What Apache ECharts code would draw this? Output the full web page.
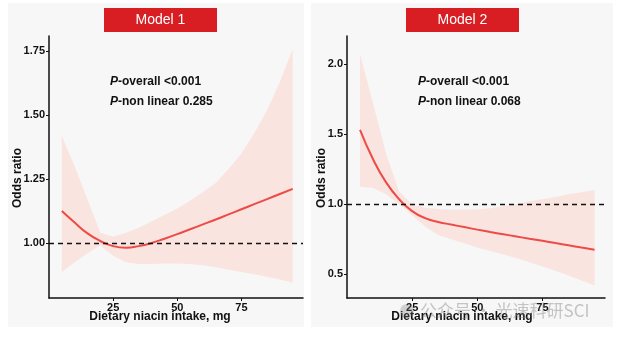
<!DOCTYPE html>
<html>
<head>
<meta charset="utf-8">
<script src="https://cdn.jsdelivr.net/npm/echarts@6/dist/echarts.min.js"></script>
<style>
html,body{margin:0;padding:0;background:#ffffff;}
#chart{width:621px;height:337px;}
</style>
</head>
<body>
<div id="chart"></div>
<script>
// ---- data ----
const xIntake = [5, 10, 15, 20, 25, 30, 35, 40, 45, 50, 55, 60, 65, 70, 75, 80, 85, 90, 95];

const m1OR = [1.125, 1.08, 1.038, 1.008, 0.988, 0.982, 0.988, 1.0, 1.017, 1.035, 1.054, 1.073, 1.092, 1.112, 1.132, 1.152, 1.172, 1.192, 1.212];
const m1Hi = [1.42, 1.30, 1.17, 1.04, 1.025, 1.04, 1.06, 1.085, 1.11, 1.135, 1.165, 1.20, 1.235, 1.29, 1.35, 1.43, 1.52, 1.63, 1.76];
const m1Lo = [0.887, 0.925, 0.96, 0.99, 0.95, 0.925, 0.918, 0.918, 0.92, 0.92, 0.918, 0.913, 0.905, 0.896, 0.887, 0.878, 0.868, 0.857, 0.845];

const m2OR = [1.53, 1.32, 1.155, 1.035, 0.95, 0.90, 0.873, 0.854, 0.836, 0.818, 0.801, 0.785, 0.769, 0.753, 0.738, 0.722, 0.706, 0.69, 0.675];
const m2Hi = [2.07, 1.72, 1.36, 1.09, 0.995, 0.975, 0.965, 0.96, 0.96, 0.962, 0.97, 0.985, 1.0, 1.02, 1.035, 1.05, 1.07, 1.085, 1.10];
const m2Lo = [1.124, 1.115, 1.07, 1.0, 0.92, 0.84, 0.78, 0.75, 0.72, 0.69, 0.665, 0.64, 0.615, 0.585, 0.555, 0.525, 0.49, 0.455, 0.42];

const xTicks = [25, 50, 75];
const m1YTicks = [1.00, 1.25, 1.50, 1.75];
const m2YTicks = [0.5, 1.0, 1.5, 2.0];
const refValue = 1;

const titles = ['Model 1', 'Model 2'];
const pTexts = [['-overall <0.001', '-non linear 0.285'], ['-overall <0.001', '-non linear 0.068']];
const xName = 'Dietary niacin intake, mg';
const yName = 'Odds ratio';
const watermark = '公众号 · 光速科研SCI';

// ---- build ----
const FONT = '"Liberation Sans", Arial, sans-serif';
const LINE = '#ee4a46';
const BAND = 'rgba(255,190,178,0.32)';

function pairs(xs, ys) { return xs.map((x, i) => [x, ys[i]]); }

function xAxisCfg(gi) {
  return {
    type: 'value', gridIndex: gi, min: 0, max: 99,
    axisLine: { show: true, lineStyle: { color: '#111', width: 1.5 } },
    axisTick: { show: true, length: 3, lineStyle: { color: '#111' }, customValues: xTicks },
    axisLabel: { customValues: xTicks, color: '#111', fontWeight: 'bold', fontSize: 11, fontFamily: FONT, margin: 4 },
    splitLine: { show: false }
  };
}
function yAxisCfg(gi, min, max, ticks, digits) {
  return {
    type: 'value', gridIndex: gi, min: min, max: max,
    axisLine: { show: true, lineStyle: { color: '#111', width: 1.5 } },
    axisTick: { show: true, length: 3, lineStyle: { color: '#111' }, customValues: ticks },
    axisLabel: { customValues: ticks, color: '#111', fontWeight: 'bold', fontSize: 11, fontFamily: FONT, margin: 4,
      formatter: v => v.toFixed(digits) },
    splitLine: { show: false }
  };
}
function bandSeries(gi, hi, lo) {
  const data = xIntake.map((x, i) => [x, lo[i], hi[i]]);
  return {
    type: 'custom', xAxisIndex: gi, yAxisIndex: gi, silent: true, z: 1,
    data: data,
    encode: { x: 0, y: [1, 2] },
    renderItem: function (params, api) {
      if (params.dataIndex !== 0) return null;
      const pts = [];
      data.forEach(d => pts.push(api.coord([d[0], d[2]])));
      for (let i = data.length - 1; i >= 0; i--) pts.push(api.coord([data[i][0], data[i][1]]));
      return { type: 'polygon', shape: { points: pts }, style: { fill: BAND } };
    }
  };
}
function seriesFor(gi, or, hi, lo) {
  return [
    bandSeries(gi, hi, lo),
    { type: 'line', xAxisIndex: gi, yAxisIndex: gi, data: pairs(xIntake, or), symbol: 'none', smooth: 0.5,
      lineStyle: { color: LINE, width: 2 }, z: 3,
      markLine: { symbol: 'none', silent: true, label: { show: false },
        lineStyle: { color: '#111', type: [5, 4], width: 1.4 }, data: [{ yAxis: refValue }] } }
  ];
}

const grids = [
  { left: 49, top: 36, width: 254, height: 262 },
  { left: 347, top: 36, width: 258, height: 262 }
];

const graphics = [];
graphics.push({ type: 'rect', shape: { x: 8, y: 3, width: 296, height: 324 }, style: { fill: '#f7f7f7' }, z: -10 });
graphics.push({ type: 'rect', shape: { x: 311, y: 3, width: 302, height: 324 }, style: { fill: '#f7f7f7' }, z: -10 });
const boxX = [104, 406];
titles.forEach((t, i) => {
  graphics.push({ type: 'rect', shape: { x: boxX[i], y: 8, width: 113, height: 24 }, style: { fill: '#d81e22' }, z: 5 });
  graphics.push({ type: 'text', x: boxX[i] + 56.5, y: 20, style: { text: t, fill: '#fff', font: '14px ' + FONT, textAlign: 'center', textVerticalAlign: 'middle' }, z: 6 });
});
const pX = [110, 418];
pTexts.forEach((arr, i) => {
  arr.forEach((s, j) => {
    graphics.push({ type: 'text', x: pX[i], y: 82 + j * 20,
      style: { text: '{i|P}{b|' + s + '}', textVerticalAlign: 'middle',
        rich: { i: { fontStyle: 'italic', fontWeight: 'bold', fontSize: 12, fontFamily: FONT, fill: '#111' },
                b: { fontWeight: 'bold', fontSize: 12, fontFamily: FONT, fill: '#111' } } }, z: 6 });
  });
});
const xNameX = [160, 462];
const yNameX = [18, 322];
[0, 1].forEach(i => {
  graphics.push({ type: 'text', x: xNameX[i], y: 317, style: { text: xName, fill: '#111', font: 'bold 12px ' + FONT, textAlign: 'center', textVerticalAlign: 'middle' }, z: 6 });
  graphics.push({ type: 'text', x: yNameX[i], y: 178, rotation: Math.PI / 2, style: { text: yName, fill: '#111', font: 'bold 12px ' + FONT, textAlign: 'center', textVerticalAlign: 'middle' }, z: 6 });
});
graphics.push({ type: 'circle', shape: { cx: 407, cy: 311, r: 7 }, style: { fill: 'rgba(120,120,120,0.3)' }, z: 7 });
graphics.push({ type: 'text', x: 420, y: 311, style: { text: watermark, fill: 'rgba(130,130,130,0.45)', font: '17px "Noto Sans CJK SC", sans-serif', textVerticalAlign: 'middle' }, z: 7 });

const option = {
  animation: false,
  backgroundColor: '#ffffff',
  grid: grids,
  xAxis: [xAxisCfg(0), xAxisCfg(1)],
  yAxis: [yAxisCfg(0, 0.785, 1.81, m1YTicks, 2), yAxisCfg(1, 0.33, 2.2, m2YTicks, 1)],
  series: [].concat(seriesFor(0, m1OR, m1Hi, m1Lo), seriesFor(1, m2OR, m2Hi, m2Lo)),
  graphic: graphics
};

const chart = echarts.init(document.getElementById('chart'), null, { renderer: 'canvas' });
chart.setOption(option);
</script>
</body>
</html>
